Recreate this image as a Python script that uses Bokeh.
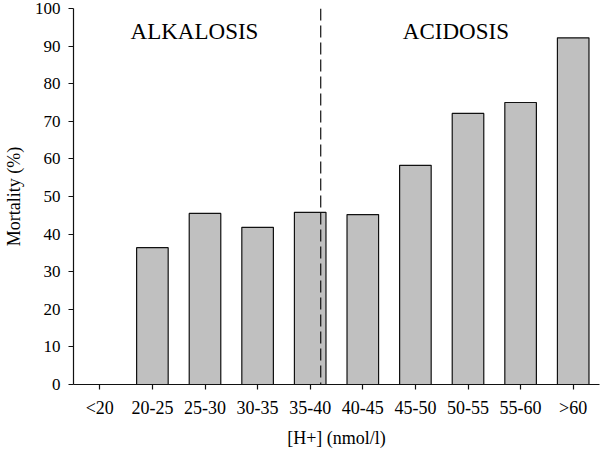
from bokeh.plotting import figure
from bokeh.models import Span, Range1d, FixedTicker, Label
from bokeh.embed import file_html
from bokeh.resources import INLINE

categories = ["<20", "20-25", "25-30", "30-35", "35-40", "40-45", "45-50", "50-55", "55-60", ">60"]
mortality = [0, 36.4, 45.5, 41.8, 45.8, 45.2, 58.3, 72.1, 75.0, 92.2]
y_ticks = [0, 10, 20, 30, 40, 50, 60, 70, 80, 90, 100]
divider_x = 4.2

xs = list(range(len(categories)))
FONT = "Liberation Serif"

p = figure(width=600, height=450, output_backend="svg", toolbar_location=None,
           x_range=Range1d(-0.5, len(categories) - 0.5), y_range=Range1d(0, 100),
           min_border_left=71, min_border_right=1, min_border_top=8, min_border_bottom=66)
p.outline_line_color = None
p.xgrid.grid_line_color = None
p.ygrid.grid_line_color = None
p.background_fill_color = "white"
p.border_fill_color = "white"

p.vbar(x=xs, top=mortality, width=0.6, bottom=0, fill_color="#c0c0c0",
       line_color="#111111", line_width=1.2)

p.add_layout(Span(location=divider_x, dimension="height", line_color="#111111",
                  line_width=1.2, line_dash="12 5"))

p.add_layout(Label(x=1.8, y=93.8, text="ALKALOSIS", text_align="center",
                   text_baseline="alphabetic", text_font=FONT, text_font_size="23px",
                   text_color="black"))
p.add_layout(Label(x=6.77, y=93.8, text="ACIDOSIS", text_align="center",
                   text_baseline="alphabetic", text_font=FONT, text_font_size="23px",
                   text_color="black"))

xa = p.xaxis[0]
xa.ticker = FixedTicker(ticks=xs)
xa.major_label_overrides = {i: c for i, c in zip(xs, categories)}
xa.axis_label = "[H+] (nmol/l)"
ya = p.yaxis[0]
ya.ticker = FixedTicker(ticks=y_ticks)
ya.axis_label = "Mortality (%)"

for ax in (xa, ya):
    ax.axis_line_color = "#111111"
    ax.axis_line_width = 1.2
    ax.major_tick_line_color = "#111111"
    ax.major_tick_line_width = 1.2
    ax.major_tick_out = 5
    ax.major_tick_in = 0
    ax.minor_tick_line_color = None
    ax.major_label_text_font = FONT
    ax.major_label_text_color = "black"
    ax.axis_label_text_font = FONT
    ax.axis_label_text_font_style = "normal"
    ax.axis_label_text_color = "black"
    ax.axis_label_text_font_size = "18px"

xa.major_label_text_font_size = "18px"
ya.major_label_text_font_size = "17px"
xa.major_label_standoff = 8
ya.major_label_standoff = 8
xa.axis_label_standoff = 7
ya.axis_label_standoff = 8

open("out.html", "w").write(file_html(p, INLINE))
